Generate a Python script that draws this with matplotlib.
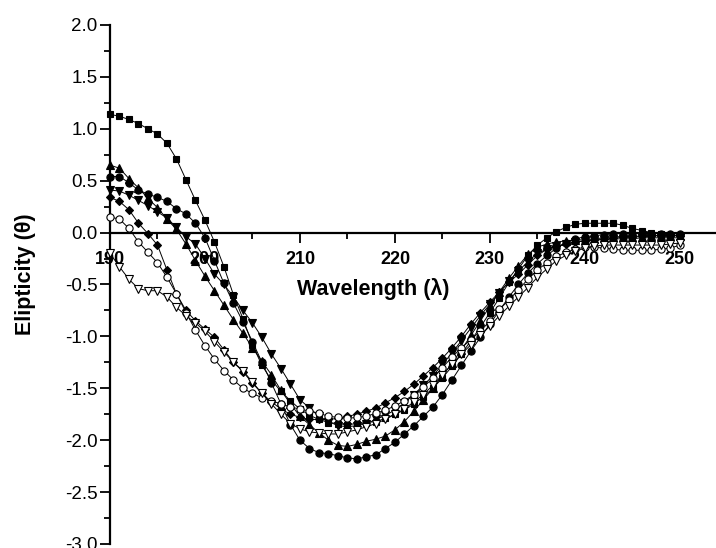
import matplotlib
matplotlib.use("Agg")
import matplotlib.pyplot as plt
from matplotlib.ticker import MultipleLocator

plt.rcParams['font.family'] = ['Liberation Sans', 'DejaVu Sans']

wavelength = list(range(190, 251))

sq_filled = [1.14, 1.12, 1.09, 1.05, 1.00, 0.95, 0.86, 0.71, 0.51, 0.31,
             0.12, -0.09, -0.33, -0.60, -0.83, -1.08, -1.28, -1.42, -1.53, -1.62,
             -1.70, -1.76, -1.80, -1.83, -1.84, -1.85, -1.84, -1.83, -1.82, -1.79,
             -1.75, -1.71, -1.65, -1.58, -1.50, -1.40, -1.29, -1.17, -1.04, -0.91,
             -0.77, -0.63, -0.48, -0.35, -0.22, -0.12, -0.05, 0.01, 0.05, 0.08,
             0.09, 0.09, 0.09, 0.09, 0.07, 0.04, 0.02, 0.00, -0.01, -0.02, -0.03]

circ_filled = [0.54, 0.54, 0.48, 0.41, 0.37, 0.34, 0.30, 0.23, 0.18, 0.09,
               -0.05, -0.27, -0.49, -0.68, -0.86, -1.05, -1.25, -1.45, -1.65, -1.85,
               -2.00, -2.08, -2.12, -2.13, -2.15, -2.17, -2.18, -2.16, -2.14, -2.08,
               -2.02, -1.94, -1.86, -1.77, -1.68, -1.56, -1.42, -1.28, -1.14, -1.01,
               -0.88, -0.75, -0.62, -0.50, -0.39, -0.30, -0.22, -0.15, -0.10, -0.06,
               -0.04, -0.03, -0.02, -0.01, -0.01, -0.01, -0.01, -0.01, -0.01, -0.01, -0.01]

tri_up = [0.65, 0.62, 0.52, 0.43, 0.33, 0.24, 0.13, 0.03, -0.11, -0.27,
          -0.42, -0.56, -0.70, -0.84, -0.97, -1.11, -1.24, -1.37, -1.52, -1.65,
          -1.77, -1.85, -1.93, -2.00, -2.05, -2.06, -2.04, -2.01, -1.99, -1.96,
          -1.90, -1.82, -1.72, -1.61, -1.50, -1.38, -1.26, -1.13, -0.99, -0.85,
          -0.71, -0.57, -0.44, -0.32, -0.21, -0.14, -0.11, -0.09, -0.08, -0.07,
          -0.07, -0.06, -0.05, -0.04, -0.04, -0.04, -0.04, -0.03, -0.03, -0.03, -0.03]

tri_down = [0.41, 0.40, 0.36, 0.31, 0.26, 0.20, 0.14, 0.05, -0.04, -0.11,
            -0.25, -0.40, -0.50, -0.62, -0.75, -0.87, -1.01, -1.17, -1.31, -1.46,
            -1.61, -1.69, -1.77, -1.82, -1.86, -1.87, -1.86, -1.84, -1.80, -1.76,
            -1.71, -1.64, -1.56, -1.47, -1.38, -1.27, -1.16, -1.04, -0.92, -0.80,
            -0.69, -0.58, -0.47, -0.37, -0.28, -0.20, -0.16, -0.13, -0.11, -0.09,
            -0.08, -0.07, -0.07, -0.06, -0.06, -0.06, -0.05, -0.05, -0.05, -0.05, -0.05]

diamond = [0.34, 0.30, 0.22, 0.09, -0.01, -0.12, -0.36, -0.59, -0.75, -0.85,
           -0.93, -1.01, -1.13, -1.25, -1.34, -1.45, -1.55, -1.63, -1.70, -1.75,
           -1.78, -1.80, -1.80, -1.80, -1.79, -1.77, -1.75, -1.72, -1.69, -1.64,
           -1.59, -1.53, -1.46, -1.38, -1.30, -1.21, -1.11, -1.00, -0.88, -0.77,
           -0.67, -0.57, -0.48, -0.40, -0.31, -0.22, -0.16, -0.13, -0.11, -0.09,
           -0.08, -0.07, -0.06, -0.05, -0.04, -0.04, -0.03, -0.03, -0.03, -0.03, -0.03]

circ_open = [0.15, 0.13, 0.04, -0.09, -0.19, -0.29, -0.43, -0.59, -0.77, -0.94,
             -1.09, -1.22, -1.33, -1.42, -1.50, -1.55, -1.59, -1.62, -1.65, -1.68,
             -1.70, -1.72, -1.74, -1.77, -1.78, -1.79, -1.78, -1.77, -1.74, -1.71,
             -1.67, -1.62, -1.56, -1.49, -1.40, -1.30, -1.20, -1.11, -1.03, -0.95,
             -0.85, -0.74, -0.65, -0.55, -0.45, -0.36, -0.29, -0.23, -0.19, -0.16,
             -0.14, -0.14, -0.15, -0.16, -0.17, -0.17, -0.17, -0.17, -0.16, -0.15, -0.12]

tri_down_open = [-0.20, -0.33, -0.45, -0.54, -0.56, -0.56, -0.62, -0.72, -0.80, -0.87,
                 -0.95, -1.05, -1.15, -1.25, -1.33, -1.44, -1.55, -1.65, -1.75, -1.84,
                 -1.89, -1.92, -1.93, -1.94, -1.94, -1.92, -1.90, -1.87, -1.84, -1.80,
                 -1.75, -1.70, -1.63, -1.56, -1.47, -1.37, -1.27, -1.17, -1.08, -0.99,
                 -0.90, -0.80, -0.71, -0.62, -0.53, -0.43, -0.35, -0.27, -0.22, -0.18,
                 -0.15, -0.13, -0.12, -0.12, -0.12, -0.12, -0.12, -0.12, -0.12, -0.11, -0.10]

x_ticks = [190, 200, 210, 220, 230, 240, 250]
y_ticks = [-3.0, -2.5, -2.0, -1.5, -1.0, -0.5, 0.0, 0.5, 1.0, 1.5, 2.0]

series = [
    (sq_filled, 's', 'black', 4.6),
    (circ_filled, 'o', 'black', 5.2),
    (tri_up, '^', 'black', 5.4),
    (tri_down, 'v', 'black', 5.4),
    (diamond, 'D', 'black', 4.4),
    (circ_open, 'o', 'white', 5.2),
    (tri_down_open, 'v', 'white', 5.4),
]

fig = plt.figure(figsize=(7.16, 5.48), dpi=100)
ax = fig.add_axes([0.1536, 0.0073, 0.8464, 0.9471])

for vals, mk, face, ms in series:
    ax.plot(wavelength, vals, color='black', linewidth=0.7, marker=mk,
            markersize=ms, markerfacecolor=face, markeredgecolor='black',
            markeredgewidth=0.8, zorder=3, clip_on=False)

ax.set_xlim(190, 253.8)
ax.set_ylim(-3.0, 2.0)

ax.spines['top'].set_visible(False)
ax.spines['right'].set_visible(False)
ax.spines['bottom'].set_position(('data', 0))
ax.spines['left'].set_linewidth(1.6)
ax.spines['bottom'].set_linewidth(1.6)

ax.set_xticks(x_ticks)
ax.set_yticks(y_ticks)
ax.set_yticklabels([f"{v:.1f}" for v in y_ticks])
ax.xaxis.set_minor_locator(MultipleLocator(5))
ax.yaxis.set_minor_locator(MultipleLocator(0.25))
ax.tick_params(axis='both', which='major', direction='out', length=7, width=1.3, labelsize=13.5)
ax.tick_params(axis='both', which='minor', direction='out', length=4, width=1.3)
ax.tick_params(axis='y', pad=2)
ax.tick_params(axis='x', pad=6)
for lbl in ax.get_xticklabels():
    lbl.set_fontweight('bold')
    lbl.set_fontsize(13)

ax.text(217.7, -0.54, 'Wavelength (\u03bb)', fontsize=15.5, fontweight='bold',
        ha='center', va='center')
fig.text(0.035, 0.50, 'Elipticity (\u03b8)', fontsize=15.5, fontweight='bold',
         rotation=90, ha='center', va='center')

fig.savefig('out.png', dpi=100)
